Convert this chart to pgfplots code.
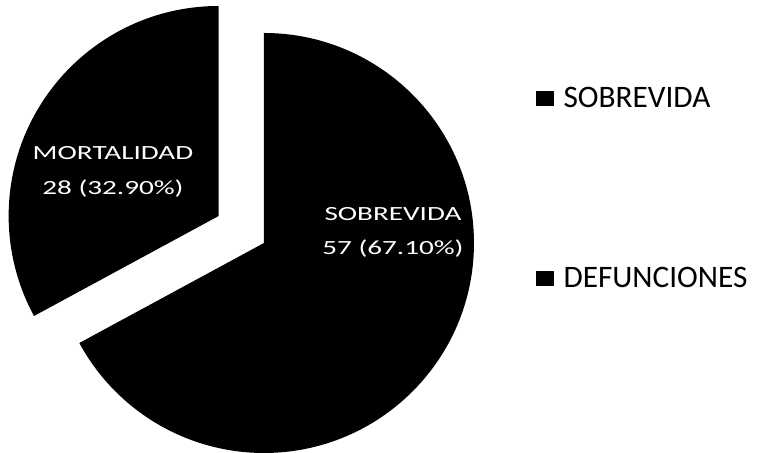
\documentclass[border=0pt]{standalone}
\usepackage{pgfplots}
\pgfplotsset{compat=1.18}
\usepackage{graphicx}
\usepackage{fontspec}
\setmainfont{Carlito}
\def\valS{67.1}% SOBREVIDA percentage (57 cases)
\def\valM{32.9}% MORTALIDAD percentage (28 cases)
\def\R{3.303}
\def\expl{0.83}
\pgfmathsetmacro{\endS}{90-3.6*\valS}
\pgfmathsetmacro{\endM}{90+3.6*\valM}
\pgfmathsetmacro{\midM}{90+1.8*\valM}
\pgfmathsetmacro{\dx}{\expl*cos(\midM)}
\pgfmathsetmacro{\dy}{\expl*sin(\midM)}
\newcommand{\lbl}[1]{\scalebox{1.45}[1]{#1}}
\begin{document}%
\begin{tikzpicture}
\begin{axis}[
  x=1cm, y=1cm,
  xmin=-4.152, xmax=7.849, ymin=-3.303, ymax=3.822,
  hide axis, clip=false,
  legend style={at={(axis cs:4.279,2.455)}, anchor=north west, draw=none, fill=none,
    inner sep=0pt, outer sep=0pt,
    font=\fontsize{14}{17}\selectfont, row sep=70pt, column sep=4.5pt,
    nodes={inner sep=0pt, outer sep=0pt}},
  legend cell align=left,
  legend image code/.code={\fill[black] (0cm,-0.11cm) rectangle (0.26cm,0.11cm);},
]
\coordinate (bbSW) at (axis cs:-4.152,-3.303);
\coordinate (bbNE) at (axis cs:7.849,3.822);
\fill[black] (axis cs:0,0) -- (axis cs:0,\R) arc[start angle=90, end angle=\endS, radius=\R] -- cycle;
\addlegendimage{black, fill=black}
\addlegendentry{SOBREVIDA}
\fill[black] (axis cs:\dx,\dy) -- (axis cs:\dx,{\dy+\R}) arc[start angle=90, end angle=\endM, radius=\R] -- cycle;
\addlegendimage{black, fill=black}
\addlegendentry{DEFUNCIONES}
\node[white, align=center, font=\fontsize{9}{15.5}\selectfont] at (axis cs:2.029,0.165) {\lbl{SOBREVIDA}\\\lbl{57 (67.10\%)}};
\node[white, align=center, font=\fontsize{9}{15.5}\selectfont] at (axis cs:-2.375,1.115) {\lbl{MORTALIDAD}\\\lbl{28 (32.90\%)}};
\end{axis}
\pgfresetboundingbox
\useasboundingbox (bbSW) rectangle (bbNE);
\end{tikzpicture}%
\end{document}
